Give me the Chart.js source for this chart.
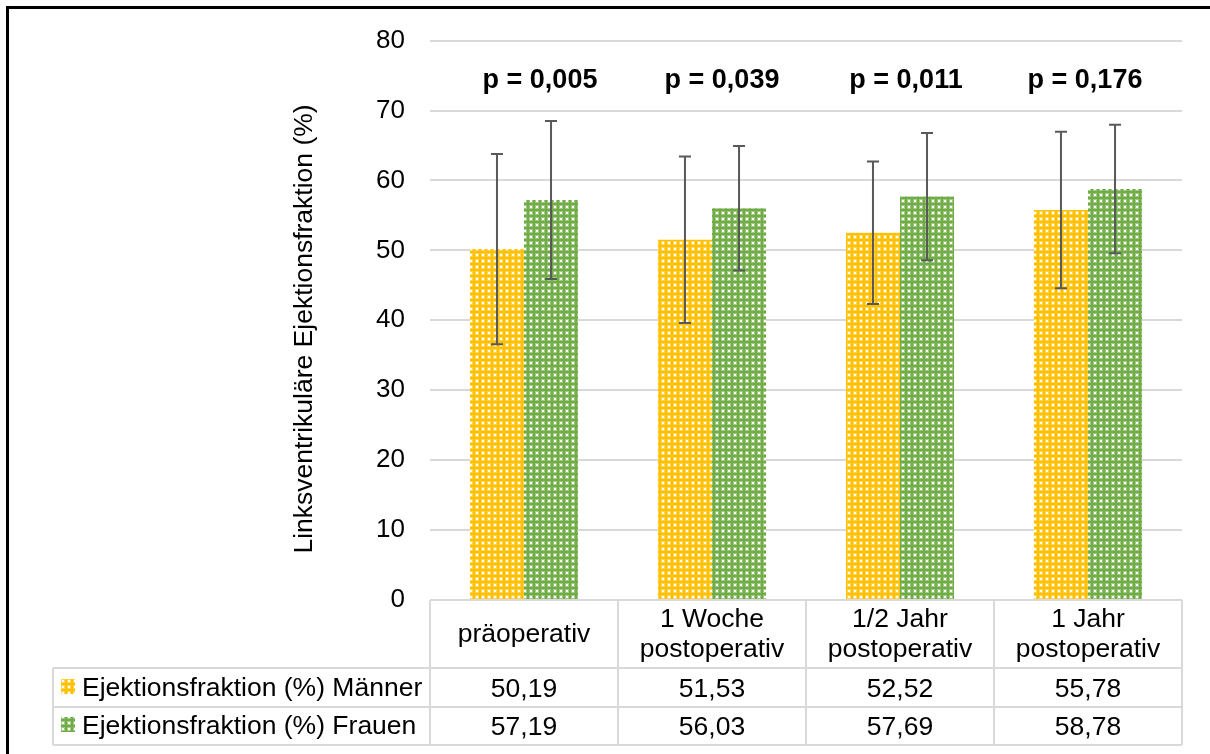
<!DOCTYPE html>
<html lang="de">
<head>
<meta charset="utf-8">
<title>Linksventrikuläre Ejektionsfraktion</title>
<script src="https://cdn.jsdelivr.net/npm/chart.js@4"></script>
<style>
    html, body { margin: 0; padding: 0; background: #fff; }
    #wrap { width: 1210px; height: 754px; position: relative; }
</style>
</head>
<body>
<div id="wrap"><canvas id="chart-ef" width="1210" height="754"></canvas></div>
<script>
// Kategorien und Messwerte
const kategorien = [['präoperativ'], ['1 Woche', 'postoperativ'], ['1/2 Jahr', 'postoperativ'], ['1 Jahr', 'postoperativ']];
const serienNamen = ['Ejektionsfraktion (%) Männer', 'Ejektionsfraktion (%) Frauen'];
const efMaenner = [50.19, 51.53, 52.52, 55.78];
const efFrauen = [57.19, 56.03, 57.69, 58.78];
const sdMaenner = [13.6, 11.9, 10.2, 11.2];
const sdFrauen = [11.3, 8.9, 9.1, 9.2];
const pWerte = ['p = 0,005', 'p = 0,039', 'p = 0,011', 'p = 0,176'];
const yMin = 0, yMax = 80, yStep = 10;

const FONT = "'Liberation Sans', Arial, sans-serif";
const GELB = '#FFC000';
const GRUEN = '#70AD47';
const LINIE = '#d9d9d9';
// die p-Textfelder sitzen nicht genau mittig über den Gruppen
const pVersatz = [16, 10, 6, -3];

function makePattern(color) {
    const c = document.createElement('canvas');
    c.width = 6;
    c.height = 6;
    const g = c.getContext('2d');
    g.fillStyle = color;
    g.fillRect(0, 0, 6, 6);
    g.fillStyle = 'rgba(255,255,255,0.35)';
    g.fillRect(1, 1, 4, 4);
    g.fillStyle = '#fff';
    g.fillRect(2, 2, 2, 2);
    return g.createPattern(c, 'repeat');
}

const fmt = v => v.toFixed(2).replace('.', ',');

// Fehlerbalken (Standardabweichung)
const errorBars = {
    id: 'errorBars',
    afterDatasetsDraw(chart) {
        const ctx = chart.ctx;
        const y = chart.scales.y;
        const sds = [sdMaenner, sdFrauen];
        ctx.save();
        ctx.strokeStyle = '#595959';
        ctx.lineWidth = 2;
        chart.data.datasets.forEach((ds, di) => {
            chart.getDatasetMeta(di).data.forEach((bar, i) => {
                const v = ds.data[i];
                const top = y.getPixelForValue(v + sds[di][i]);
                const bot = y.getPixelForValue(v - sds[di][i]);
                ctx.beginPath();
                ctx.moveTo(bar.x, top); ctx.lineTo(bar.x, bot);
                ctx.moveTo(bar.x - 6, top); ctx.lineTo(bar.x + 6, top);
                ctx.moveTo(bar.x - 6, bot); ctx.lineTo(bar.x + 6, bot);
                ctx.stroke();
            });
        });
        ctx.restore();
    }
};

// p-Werte, Achsentitel, Datentabelle und Rahmen
const extras = {
    id: 'extras',
    afterDraw(chart) {
        const ctx = chart.ctx;
        const area = chart.chartArea;
        const x = chart.scales.x;
        const colW = (area.right - area.left) / kategorien.length;
        ctx.save();

        // Rahmen
        ctx.strokeStyle = '#000';
        ctx.lineWidth = 3;
        ctx.beginPath();
        ctx.moveTo(7.5, 760); ctx.lineTo(7.5, 7.5); ctx.lineTo(1215, 7.5);
        ctx.stroke();

        ctx.fillStyle = '#000';
        ctx.textAlign = 'center';
        ctx.textBaseline = 'middle';

        ctx.font = 'bold 27px ' + FONT;
        pWerte.forEach((p, i) => ctx.fillText(p, x.getPixelForValue(i) + pVersatz[i], 81));

        // y-Achsentitel
        ctx.font = '26.5px ' + FONT;
        ctx.save();
        ctx.translate(305, 329);
        ctx.rotate(-Math.PI / 2);
        ctx.fillText('Linksventrikuläre Ejektionsfraktion (%)', 0, 0);
        ctx.restore();

        // Tabelle
        const headTop = area.bottom, row1 = 668, row2 = 707, bottom = 745, legLeft = 53;
        ctx.strokeStyle = LINIE;
        ctx.lineWidth = 2;
        ctx.beginPath();
        for (let i = 0; i <= kategorien.length; i++) {
            const cx = area.left + i * colW;
            ctx.moveTo(cx, headTop); ctx.lineTo(cx, bottom);
        }
        [row1, row2, bottom].forEach(yy => { ctx.moveTo(legLeft, yy); ctx.lineTo(area.right, yy); });
        ctx.moveTo(legLeft, row1); ctx.lineTo(legLeft, bottom);
        ctx.stroke();

        ctx.textBaseline = 'alphabetic';
        kategorien.forEach((lines, i) => {
            const cx = x.getPixelForValue(i);
            const start = 642 - (lines.length - 1) * 15;
            lines.forEach((l, j) => ctx.fillText(l, cx, start + j * 30));
            ctx.fillText(fmt(efMaenner[i]), cx, 697);
            ctx.fillText(fmt(efFrauen[i]), cx, 735);
        });

        ctx.textAlign = 'left';
        [[GELB, 696], [GRUEN, 734]].forEach(([col, base], k) => {
            ctx.fillStyle = makePattern(col);
            ctx.fillRect(61, base - 17, 14, 15);
            ctx.fillStyle = '#000';
            ctx.fillText(serienNamen[k], 82, base);
        });
        ctx.restore();
    }
};

new Chart(document.getElementById('chart-ef').getContext('2d'), {
    type: 'bar',
    data: {
        labels: kategorien,
        datasets: [
            { label: serienNamen[0], data: efMaenner, backgroundColor: makePattern(GELB) },
            { label: serienNamen[1], data: efFrauen, backgroundColor: makePattern(GRUEN) }
        ]
    },
    options: {
        responsive: false,
        animation: false,
        devicePixelRatio: 1,
        layout: { padding: { left: 290, right: 28, top: 36, bottom: 154 } },
        datasets: { bar: { barPercentage: 1, categoryPercentage: 0.575 } },
        plugins: { legend: { display: false }, tooltip: { enabled: false } },
        scales: {
            x: { display: false },
            y: {
                min: yMin,
                max: yMax,
                afterFit: s => { s.width = 140; },
                border: { display: false },
                grid: { color: LINIE, lineWidth: 2, drawTicks: false },
                ticks: { stepSize: yStep, padding: 25, color: '#000', font: { family: FONT, size: 26 } }
            }
        }
    },
    plugins: [errorBars, extras]
});
</script>
</body>
</html>
